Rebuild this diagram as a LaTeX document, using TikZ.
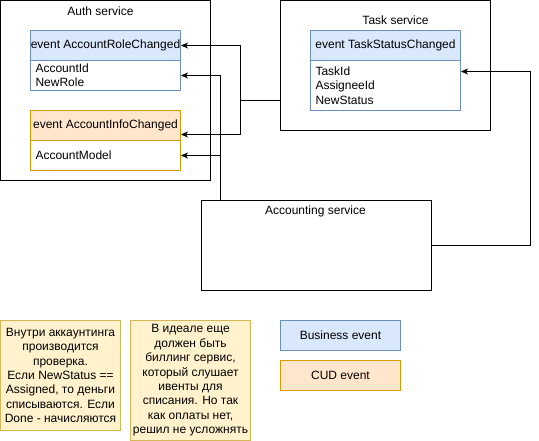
\documentclass[tikz,border=0pt]{standalone}
\usepackage{fontspec}
\setmainfont{Liberation Sans}
\usetikzlibrary{arrows.meta}
\definecolor{bizfill}{HTML}{DAE8FC}
\definecolor{bizdraw}{HTML}{6C8EBF}
\definecolor{cudfill}{HTML}{FFE6CC}
\definecolor{cuddraw}{HTML}{D79B00}
\definecolor{notefill}{HTML}{FFF2CC}
\definecolor{notedraw}{HTML}{D6B656}
\begin{document}
\begin{tikzpicture}[x=1pt,y=-1pt,line width=1pt,
  every node/.style={font=\fontsize{12}{14.4}\selectfont,inner sep=0pt},
  service/.style={draw,rectangle},
  bizhead/.style={draw=bizdraw,fill=bizfill,minimum width=150,minimum height=30},
  cudhead/.style={draw=cuddraw,fill=cudfill,minimum width=150,minimum height=30},
  fields/.style={fill=white,minimum width=150,text width=140,align=left},
  note/.style={draw=notedraw,fill=notefill,minimum width=120,align=center},
  arr/.style={-{Stealth[length=7pt,width=6pt,inset=2pt]}}]
\useasboundingbox (-0.5,-0.5) rectangle (538.5,440.5);
% services
\node[service,minimum width=210,minimum height=180] (auth) at (105,90) {};
\node (authT) at (100,11) {Auth service};
\node[service,minimum width=210,minimum height=130] (task) at (385,65) {};
\node (taskT) at (395,20) {Task service};
\node[service,minimum width=230,minimum height=90] (acct) at (315.5,245) {};
\node (acctT) at (315,211) {Accounting service};
% events
\node[bizhead] (roleHead) at (105,45) {event AccountRoleChanged};
\node[fields,draw=bizdraw,minimum height=30] (roleBody) at (105,75) {AccountId\\NewRole};
\node[cudhead] (infoHead) at (105,125) {event AccountInfoChanged};
\node[fields,draw=cuddraw,minimum height=30] (infoBody) at (105,155) {AccountModel};
\node[bizhead] (statusHead) at (385,45) {event TaskStatusChanged};
\node[fields,draw=bizdraw,minimum height=50] (statusBody) at (385,85) {TaskId\\AssigneeId\\NewStatus};
% notes
\node[note,minimum height=110] (note1) at (60,375) {Внутри аккаунтинга\\производится\\проверка.\\ Если NewStatus ==\\Assigned, то деньги\\списываются. Если\\Done - начисляются};
\node[note,minimum height=120] (note2) at (190,380) {В идеале еще\\должен быть\\биллинг сервис,\\который слушает\\ивенты для\\списания. Но так\\как оплаты нет,\\решил не усложнять};
% legend
\node[bizhead,minimum width=120] (legBiz) at (340,335) {Business event};
\node[cudhead,minimum width=120] (legCud) at (340,375) {CUD event};
% connectors
\coordinate (j1) at (240,100);
\coordinate (j2) at (220,75);
\coordinate (j3) at (530,71);
\draw (task.west |- j1) -- (j1);
\draw[arr] (j1) |- (roleHead.east);
\draw[arr] (j1) |- ([yshift=-9]infoHead.east);
\draw[arr] (acct.north -| j2) |- (roleBody.east);
\draw[arr] (acct.north -| j2) |- (infoBody.east);
\draw[arr] (acct.east) -| (j3) -- ([yshift=14]statusBody.east);
\end{tikzpicture}
\end{document}
